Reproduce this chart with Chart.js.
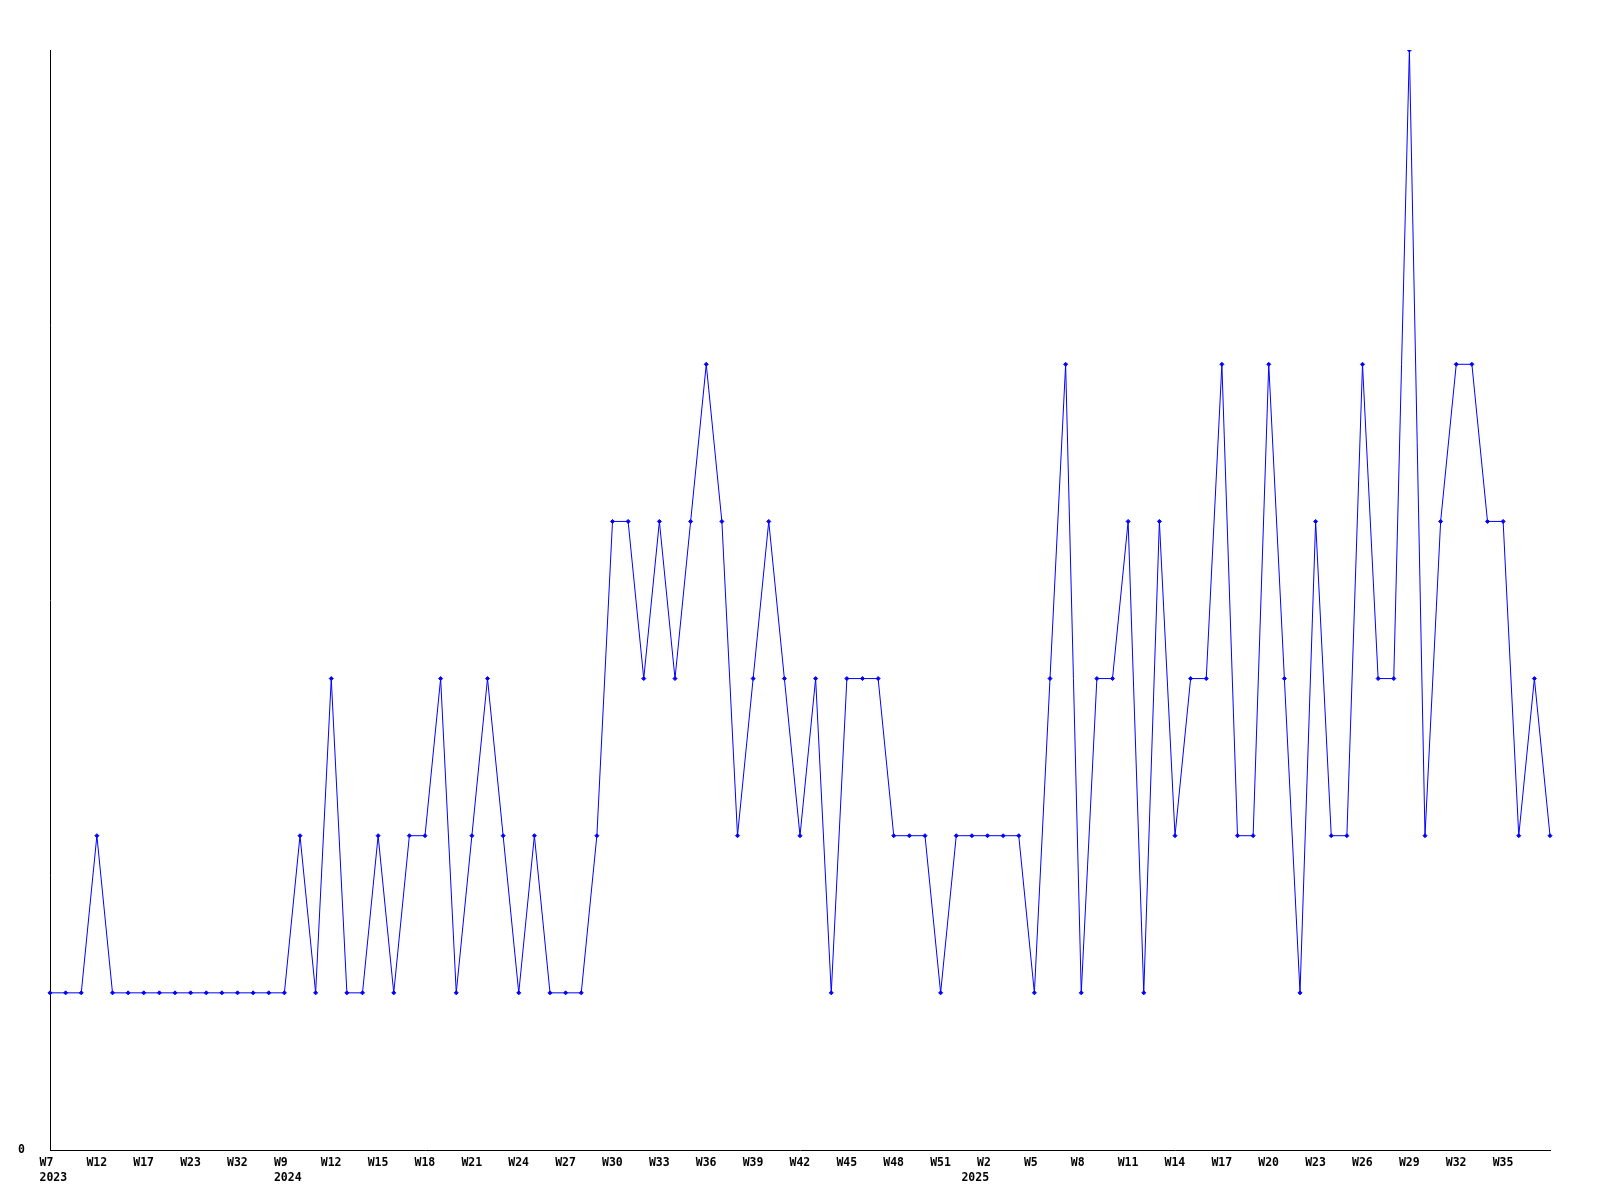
<!DOCTYPE html>
<html>
<head>
<meta charset="utf-8">
<script src="https://cdn.jsdelivr.net/npm/chart.js@4.4.0/dist/chart.umd.min.js"></script>
<style>
  html, body { margin: 0; padding: 0; background: #fff; }
  #wrap { width: 1600px; height: 1200px; }
</style>
</head>
<body>
<div id="wrap"><canvas id="weekChart" width="1600" height="1200"></canvas></div>
<script>
// ------------------------
// Data
// ------------------------
const weeks = [
    'W7', 'W9', 'W10', 'W12', 'W14', 'W15', 'W17', 'W19', 'W21', 'W23', 'W26', 'W29', 'W32', 'W38', 'W45',
    'W9', 'W10', 'W11', 'W12', 'W13', 'W14', 'W15', 'W16', 'W17', 'W18', 'W19', 'W20', 'W21', 'W22', 'W23',
    'W24', 'W25', 'W26', 'W27', 'W28', 'W29', 'W30', 'W31', 'W32', 'W33', 'W34', 'W35', 'W36', 'W37', 'W38',
    'W39', 'W40', 'W41', 'W42', 'W43', 'W44', 'W45', 'W46', 'W47', 'W48', 'W49', 'W50', 'W51', 'W52',
    'W1', 'W2', 'W3', 'W4', 'W5', 'W6', 'W7', 'W8', 'W9', 'W10', 'W11', 'W12', 'W13', 'W14', 'W15', 'W16',
    'W17', 'W18', 'W19', 'W20', 'W21', 'W22', 'W23', 'W24', 'W25', 'W26', 'W27', 'W28', 'W29', 'W30', 'W31',
    'W32', 'W33', 'W34', 'W35', 'W36', 'W37', 'W38'
];

// year shown under the first week of each year
const yearMarks = { 0: '2023', 15: '2024', 59: '2025' };

const counts = [
    1, 1, 1, 2, 1, 1, 1, 1, 1, 1, 1, 1, 1, 1, 1,
    1, 2, 1, 3, 1, 1, 2, 1, 2, 2, 3, 1, 2, 3, 2,
    1, 2, 1, 1, 1, 2, 4, 4, 3, 4, 3, 4, 5, 4, 2,
    3, 4, 3, 2, 3, 1, 3, 3, 3, 2, 2, 2, 1, 2,
    2, 2, 2, 2, 1, 3, 5, 1, 3, 3, 4, 1, 4, 2, 3, 3,
    5, 2, 2, 5, 3, 1, 4, 2, 2, 5, 3, 3, 7, 2, 4,
    5, 5, 4, 4, 2, 3, 2
];

const yMin = 0;
const yMax = 7;
const labelEvery = 3;

// ------------------------
// Chart
// ------------------------
const tickFont = { family: 'DejaVu Sans Mono', size: 11.5, weight: 'bold', lineHeight: 1.3 };

function weekTick(value, index) {
    const last = index === weeks.length - 1;
    const week = (index % labelEvery === 0 && !last) ? this.getLabelForValue(value) : '';
    const year = yearMarks[index];
    if (year) return [week, year];
    return week;
}

new Chart(document.getElementById('weekChart'), {
    type: 'line',
    data: {
        labels: weeks,
        datasets: [{
            data: counts,
            borderColor: '#0000ff',
            backgroundColor: '#0000ff',
            borderWidth: 1,
            pointStyle: 'rectRot',
            pointRadius: 2,
            pointBorderWidth: 1,
            tension: 0,
            fill: false
        }]
    },
    options: {
        responsive: false,
        animation: false,
        layout: { padding: { top: 50, right: 50, left: 0, bottom: 0 } },
        plugins: { legend: { display: false }, tooltip: { enabled: false } },
        scales: {
            x: {
                offset: false,
                grid: { display: false, drawTicks: false },
                border: { display: true, color: '#000', width: 1 },
                ticks: {
                    autoSkip: false,
                    maxRotation: 0,
                    minRotation: 0,
                    align: 'start',
                    labelOffset: -10.5,
                    padding: 6,
                    color: '#000',
                    font: tickFont,
                    callback: weekTick
                },
                afterFit: scale => { scale.height = 50; }
            },
            y: {
                min: yMin,
                max: yMax,
                grid: { display: false, drawTicks: false },
                border: { display: true, color: '#000', width: 1 },
                ticks: {
                    stepSize: yMax,
                    padding: 25,
                    color: '#000',
                    font: tickFont,
                    callback: value => value === 0 ? '0' : ''
                },
                afterFit: scale => { scale.width = 50; }
            }
        }
    }
});
</script>
</body>
</html>
